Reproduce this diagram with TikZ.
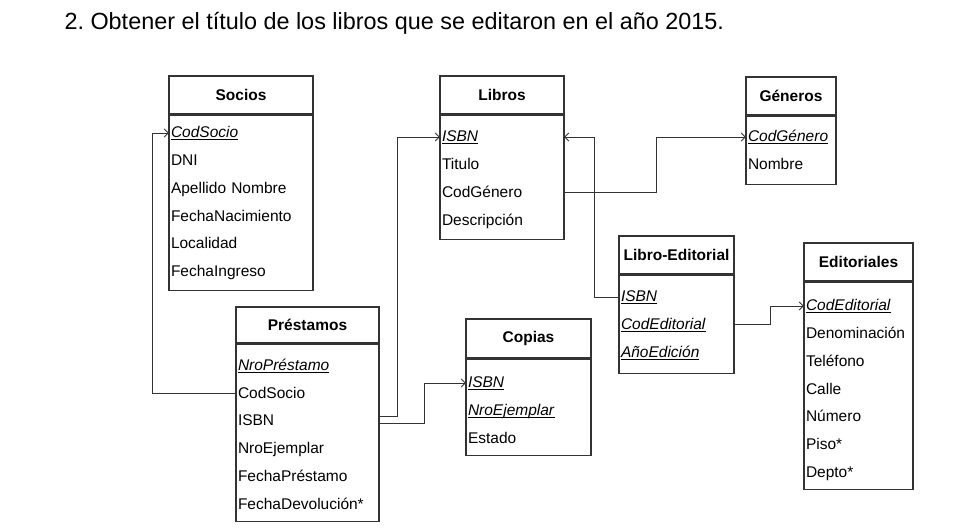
\documentclass[tikz,border=0pt]{standalone}
\usepackage{fontspec}
\setmainfont{Liberation Sans}
\usetikzlibrary{arrows.meta}
\newsavebox{\pkbox}
\newcommand{\pkey}[1]{\sbox{\pkbox}{\textit{#1}}\rlap{\usebox{\pkbox}}\rule[-2pt]{\wd\pkbox}{0.8pt}}
\frenchspacing

\begin{document}
\begin{tikzpicture}[
    x=1pt, y=-1pt,
    node distance=27.7pt,
    every node/.style={font=\fontsize{15.5}{18}\selectfont},
    hdr/.style={rectangle, draw=black!80, line width=1.2pt, inner sep=0pt, minimum height=38pt, font=\fontsize{15.5}{18}\selectfont\bfseries},
    body/.style={rectangle, draw=black!80, line width=1.2pt, inner sep=0pt, anchor=north},
    fld/.style={inner xsep=2pt, inner ysep=1pt, text width=#1, align=left, text height=11pt, text depth=1pt},
    fk/.style={-{Straight Barb[length=4pt, width=8pt]}, line width=0.9pt, draw=black!80}
]
    \useasboundingbox (0,0) rectangle (964,529);

    \node[anchor=base west, font=\fontsize{23.4}{28}\selectfont] (title) at (61,30) {2. Obtener el título de los libros que se editaron en el año 2015.};

    \node[hdr, minimum width=144pt] (socios) at (241,95) {Socios};
    \node[body, minimum width=144pt, minimum height=175pt] (sociosb) at (socios.south) {};
    \node[fld=140pt] (socio1) at (241,133) {\pkey{CodSocio}};
    \node[fld=140pt, below of=socio1] (socio2) {DNI};
    \node[fld=140pt, below of=socio2] (socio3) {Apellido Nombre};
    \node[fld=140pt, below of=socio3] (socio4) {FechaNacimiento};
    \node[fld=140pt, below of=socio4] (socio5) {Localidad};
    \node[fld=140pt, below of=socio5] (socio6) {FechaIngreso};

    \node[hdr, minimum width=124pt] (libros) at (502,95) {Libros};
    \node[body, minimum width=124pt, minimum height=124pt] (librosb) at (libros.south) {};
    \node[fld=120pt] (libro1) at (502,137) {\pkey{ISBN}};
    \node[fld=120pt, below of=libro1] (libro2) {Titulo};
    \node[fld=120pt, below of=libro2] (libro3) {CodGénero};
    \node[fld=120pt, below of=libro3] (libro4) {Descripción};

    \node[hdr, minimum width=90pt] (generos) at (791,96) {Géneros};
    \node[body, minimum width=90pt, minimum height=68pt] (generosb) at (generos.south) {};
    \node[fld=86pt] (genero1) at (791,137) {\pkey{CodGénero}};
    \node[fld=86pt, below of=genero1] (genero2) {Nombre};

    \node[hdr, minimum width=115pt] (libed) at (676.5,255) {Libro-Editorial};
    \node[body, minimum width=115pt, minimum height=98pt] (libedb) at (libed.south) {};
    \node[fld=111pt] (libed1) at (676.5,297) {\pkey{ISBN}};
    \node[fld=111pt, below of=libed1] (libed2) {\pkey{CodEditorial}};
    \node[fld=111pt, below of=libed2] (libed3) {\pkey{AñoEdición}};

    \node[hdr, minimum width=109pt] (edit) at (858.5,262) {Editoriales};
    \node[body, minimum width=109pt, minimum height=207pt] (editb) at (edit.south) {};
    \node[fld=105pt] (edit1) at (858.5,306) {\pkey{CodEditorial}};
    \node[fld=105pt, below of=edit1] (edit2) {Denominación};
    \node[fld=105pt, below of=edit2] (edit3) {Teléfono};
    \node[fld=105pt, below of=edit3] (edit4) {Calle};
    \node[fld=105pt, below of=edit4] (edit5) {Número};
    \node[fld=105pt, below of=edit5] (edit6) {Piso*};
    \node[fld=105pt, below of=edit6] (edit7) {Depto*};

    \node[hdr, minimum width=143pt, minimum height=36pt] (prest) at (307.5,325) {Préstamos};
    \node[body, minimum width=143pt, minimum height=177pt] (prestb) at (prest.south) {};
    \node[fld=139pt] (prest1) at (307.5,365.5) {\pkey{NroPréstamo}};
    \node[fld=139pt, below of=prest1] (prest2) {CodSocio};
    \node[fld=139pt, below of=prest2] (prest3) {ISBN};
    \node[fld=139pt, below of=prest3] (prest4) {NroEjemplar};
    \node[fld=139pt, below of=prest4] (prest5) {FechaPréstamo};
    \node[fld=139pt, below of=prest5] (prest6) {FechaDevolución*};

    \node[hdr, minimum width=125pt, minimum height=39pt] (copias) at (528.5,338.5) {Copias};
    \node[body, minimum width=125pt, minimum height=96pt] (copiasb) at (copias.south) {};
    \node[fld=121pt] (copia1) at (528.5,383) {\pkey{ISBN}};
    \node[fld=121pt, below of=copia1] (copia2) {\pkey{NroEjemplar}};
    \node[fld=121pt, below of=copia2] (copia3) {Estado};

    \draw[fk] (prest2.west) -- ++(-83,0) |- (socio1.west);
    \draw[fk] ([yshift=4pt]prest3.east) -- ++(18,0) |- (libro1.west);
    \draw[fk] ([yshift=-3pt]prest3.east) -- ++(45,0) |- (copia1.west);
    \draw[fk] (libro3.east) -- ++(92,0) |- (genero1.west);
    \draw[fk] (libed1.west) -- ++(-24,0) |- (libro1.east);
    \draw[fk] (libed2.east) -- ++(36,0) |- (edit1.west);
\end{tikzpicture}
\end{document}
